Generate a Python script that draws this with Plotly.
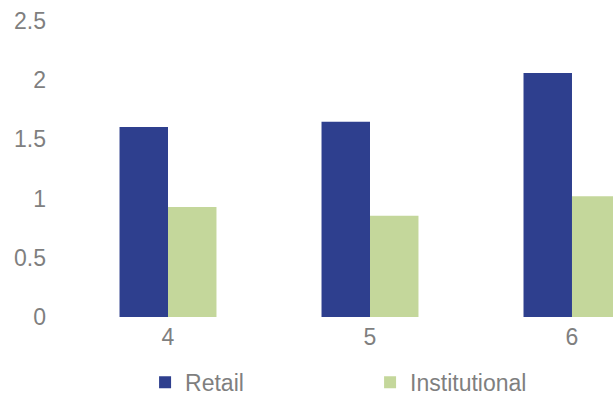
import plotly.graph_objects as go

categories = [4, 5, 6]
retail = [1.605, 1.65, 2.06]
institutional = [0.93, 0.856, 1.02]
y_ticks = [0, 0.5, 1, 1.5, 2, 2.5]
y_tick_labels = ["0", "0.5", "1", "1.5", "2", "2.5"]

BLUE = "#2E3F8E"
GREEN = "#C4D79B"
GRAY = "#7F7F7F"
FONT = "Arial"

fig = go.Figure()
fig.add_trace(go.Bar(name="Retail", x=categories, y=retail, marker=dict(color=BLUE, line=dict(width=0))))
fig.add_trace(go.Bar(name="Institutional", x=categories, y=institutional, marker=dict(color=GREEN, line=dict(width=0))))

fig.update_layout(
    width=613, height=396,
    margin=dict(l=67, r=0, t=21, b=79, pad=0, autoexpand=False),
    paper_bgcolor="white", plot_bgcolor="white",
    barmode="group", bargap=0.52, bargroupgap=0,
    font=dict(family=FONT, color=GRAY, size=23),
    showlegend=True,
    legend=dict(orientation="h", x=0.143, xanchor="left", y=0.089, yref="container", yanchor="top",
                font=dict(size=23, color=GRAY), entrywidth=180, entrywidthmode="pixels",
                itemclick=False, bgcolor="rgba(0,0,0,0)"),
    xaxis=dict(range=[3.5, 6.203], tickmode="array", tickvals=categories, automargin=False,
               ticktext=[str(c) for c in categories], showgrid=False, zeroline=False,
               showline=False, ticks="", ticklabelstandoff=4, tickfont=dict(size=23, color=GRAY)),
    yaxis=dict(range=[0, 2.5], tickmode="array", tickvals=y_ticks, ticktext=y_tick_labels, automargin=False,
               showgrid=False, zeroline=False, showline=False, ticks="",
               ticklabelstandoff=20, tickfont=dict(size=23, color=GRAY)),
)

fig.write_html("out.html", config={"displayModeBar": False},
               post_script="document.body.style.margin='0';document.body.style.overflow='hidden';")
